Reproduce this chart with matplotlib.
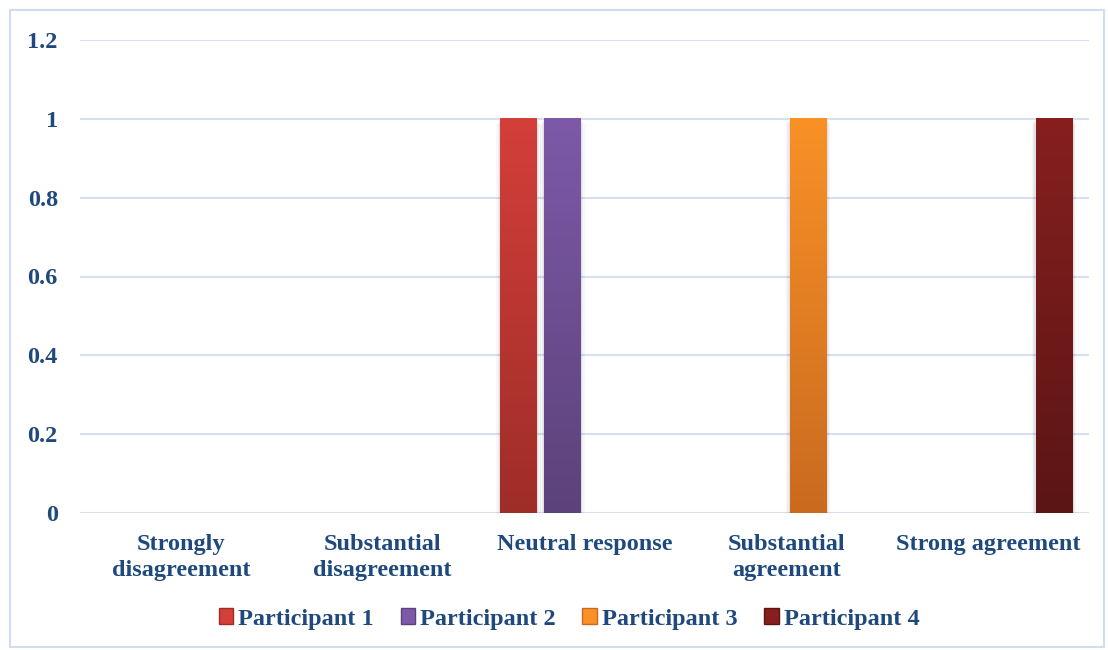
import numpy as np
import matplotlib.pyplot as plt
from matplotlib.patches import Rectangle, Patch
from matplotlib.colors import LinearSegmentedColormap

categories = ['Strongly\ndisagreement', 'Substantial\ndisagreement', 'Neutral response',
              'Substantial\nagreement', 'Strong agreement']
participants = ['Participant 1', 'Participant 2', 'Participant 3', 'Participant 4']
p1 = [0, 0, 1, 0, 0]
p2 = [0, 0, 1, 0, 0]
p3 = [0, 0, 0, 1, 0]
p4 = [0, 0, 0, 0, 1]
series = [p1, p2, p3, p4]

# top / bottom colours of each bar gradient
tops = ['#D43F3A', '#7D59A8', '#F99127', '#871F1F']
bottoms = ['#9E2D28', '#5C427A', '#C96A1F', '#5B1515']
txt = '#1F497D'
grid_c = '#D6E0F0'

plt.rcParams['font.family'] = ['Liberation Serif', 'DejaVu Serif']
plt.rcParams['font.weight'] = 'bold'

fig = plt.figure(figsize=(11.08, 6.5), dpi=100)
ax = fig.add_axes([80 / 1108, 137 / 650, 1009 / 1108, 473 / 650])

x = np.arange(len(categories))
w = 0.183
step = 0.218
grad = np.linspace(1, 0, 256).reshape(-1, 1)

for i, vals in enumerate(series):
    off = (i - 1.5) * step
    cmap = LinearSegmentedColormap.from_list('g%d' % i, [bottoms[i], tops[i]])
    bars = ax.bar(x + off, vals, w, color='none', zorder=3)
    for b in bars:
        if b.get_height() == 0:
            continue
        bx, by = b.get_x(), b.get_y()
        bw, bh = b.get_width(), b.get_height()
        # soft shadow
        for k, a in enumerate([0.05, 0.04, 0.03]):
            d = 0.006 * (k + 1)
            ax.add_patch(Rectangle((bx - d, by - 0.004 * (k + 1)), bw + 2 * d, bh,
                                   color='black', alpha=a, lw=0, zorder=2))
        ax.imshow(grad, extent=[bx, bx + bw, by, by + bh], aspect='auto',
                  cmap=cmap, zorder=3)

ax.set_xlim(-0.5, len(categories) - 0.5)
ax.set_ylim(0, 1.2)
ax.set_yticks([0, 0.2, 0.4, 0.6, 0.8, 1, 1.2])
ax.set_yticklabels(['0', '0.2', '0.4', '0.6', '0.8', '1', '1.2'])
ax.set_xticks(x)
ax.set_xticklabels(categories, linespacing=1.3)
ax.tick_params(axis='y', length=0, pad=16, labelsize=17.5, labelcolor=txt)
ax.tick_params(axis='x', length=0, pad=15, labelsize=17.5, labelcolor=txt)
for s in ax.spines.values():
    s.set_visible(False)
ax.yaxis.grid(True, color=grid_c, lw=1.5, zorder=0)
ax.set_axisbelow(True)
ax.axhline(0, color=grid_c, lw=2, zorder=1)

handles = [Patch(facecolor=tops[i], edgecolor=bottoms[i]) for i in range(4)]
fig.legend(handles, participants, loc='center', bbox_to_anchor=(569 / 1108, 1 - 619 / 650),
           ncol=4, frameon=False, fontsize=17.5, labelcolor=txt, handlelength=0.6,
           handleheight=0.6, handletextpad=0.2, columnspacing=1.1)

fig.add_artist(Rectangle((10 / 1108, 3 / 650), 1094 / 1108, 637 / 650,
                         transform=fig.transFigure, fill=False, edgecolor='#D0DDF0', lw=1.5))

fig.savefig('out.png', dpi=100)
